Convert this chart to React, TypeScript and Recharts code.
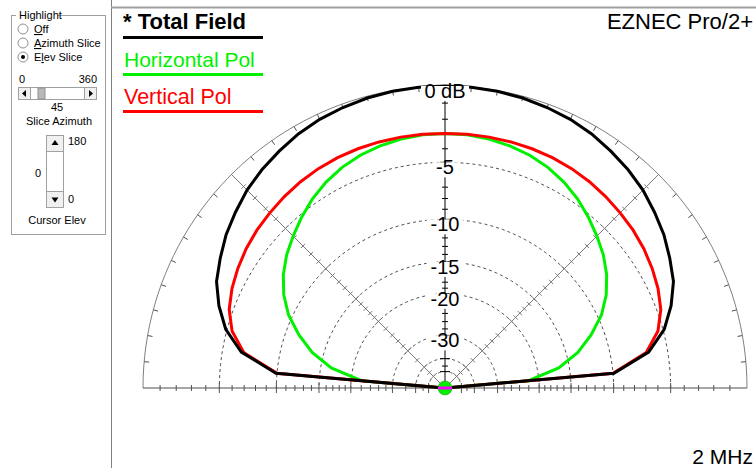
import React from 'react';
import { LineChart, Line, XAxis, YAxis, ReferenceLine, ReferenceDot } from 'recharts';

// elevation angle in degrees, 0 = right horizon, 180 = left horizon
const elevations = [
  0, 5, 10, 15, 20, 25, 30, 35, 40, 45, 50, 55, 60, 65, 70, 75, 80, 85, 90,
  95, 100, 105, 110, 115, 120, 125, 130, 135, 140, 145, 150, 155, 160, 165, 170, 175, 180,
];

// gain in dB (-99 = deep null at the horizon)
const totalField = [
  -99, -9.9, -6.5, -4.9, -3.9, -3.1, -2.6, -2.1, -1.7, -1.3, -1.0, -0.75, -0.5, -0.32, -0.2, -0.1, -0.04, -0.01, 0,
  -0.01, -0.04, -0.1, -0.2, -0.32, -0.5, -0.75, -1.0, -1.3, -1.7, -2.1, -2.6, -3.1, -3.9, -4.9, -6.5, -9.9, -99,
];
const horizontalPol = [
  -99, -22, -16.5, -13.5, -11.4, -9.6, -8.3, -7.3, -6.5, -5.85, -5.2, -4.6, -4.1, -3.7, -3.4, -3.2, -3.05, -2.96, -2.93,
  -2.96, -3.05, -3.2, -3.4, -3.7, -4.1, -4.6, -5.2, -5.85, -6.5, -7.3, -8.3, -9.6, -11.4, -13.5, -16.5, -22, -99,
];
const verticalPol = [
  -99, -10.0, -6.7, -5.4, -4.7, -4.3, -4.0, -3.75, -3.55, -3.4, -3.25, -3.12, -3.02, -2.96, -2.93, -2.92, -2.92, -2.93, -2.93,
  -2.93, -2.92, -2.92, -2.93, -2.96, -3.02, -3.12, -3.25, -3.4, -3.55, -3.75, -4.0, -4.3, -4.7, -5.4, -6.7, -10.0, -99,
];

// grid
const ringLevels = [-5, -10, -15, -20, -30, -40, -50];
const labelLevels = [0, -5, -10, -15, -20, -30];
const labelTexts = ['0 dB', '-5', '-10', '-15', '-20', '-30'];
const tickLevels = [
  -1, -2, -3, -4, -6, -7, -8, -9, -11, -12, -13, -14, -16, -17, -18, -19,
  -22, -24, -26, -28, -35, -45,
];
const rimTickAngles = [
  5, 10, 15, 20, 25, 30, 35, 40, 50, 55, 60, 65, 70, 75, 80, 85,
  95, 100, 105, 110, 115, 120, 125, 130, 140, 145, 150, 155, 160, 165, 170, 175,
];
const diagonalAngles = [45, 135];

const W = 756;
const H = 468;
const CX = 445;
const CY = 388;
const R = 302;

// ARRL log scale: radius shrinks by 0.89 every 2 dB
const arrl = (db: number) => Math.pow(0.89, -db / 2);
const rad = (deg: number) => (deg * Math.PI) / 180;
const toPoint = (elev: number, db: number) => {
  const r = arrl(db);
  return { x: r * Math.cos(rad(elev)), y: r * Math.sin(rad(elev)) };
};

const toSeries = (values: number[]) => elevations.map((e, i) => toPoint(e, values[i]));

const arc = (db: number) => {
  const pts = [];
  for (let a = 0; a <= 180; a += 2) pts.push(toPoint(a, db));
  return pts;
};

const radialTicks = (angle: number) => {
  const out: { x: number; y: number }[][] = [];
  const nx = -Math.sin(rad(angle));
  const ny = Math.cos(rad(angle));
  const add = (db: number, len: number) => {
    const p = toPoint(angle, db);
    const h = len / R;
    out.push([
      { x: p.x - nx * h, y: p.y - ny * h },
      { x: p.x + nx * h, y: p.y + ny * h },
    ]);
  };
  tickLevels.forEach((db) => add(db, 3));
  ringLevels.forEach((db) => add(db, 5));
  return out;
};

const xDomain = [-CX / R, (W - CX) / R];
const yDomain = [-(H - CY) / R, CY / R];

const GREEN = '#00f000';
const RED = '#ff0000';
const FONT = '"Liberation Sans", Arial, sans-serif';

function DbLabel({ cx, cy, text }: { cx: number; cy: number; text: string }) {
  const w = text.length * 11 + 4;
  return (
    <g>
      <rect x={cx - w / 2} y={cy} width={w} height={15} fill="#ffffff" />
      <text x={cx} y={cy + 12} textAnchor="middle" fontFamily={FONT} fontSize={20} fill="#000">
        {text}
      </text>
    </g>
  );
}

function Panel() {
  const radios = [
    { y: 29, label: 'Off', u: 0, on: false },
    { y: 43, label: 'Azimuth Slice', u: 0, on: false },
    { y: 57, label: 'Elev Slice', u: 1, on: true },
  ];
  const small = { fontFamily: FONT, fontSize: 11, fill: '#000' };
  return (
    <g>
      <rect x={11.5} y={15.5} width={94} height={219} fill="none" stroke="#a0a0a0" />
      <rect x={16} y={9} width={42} height={12} fill="#fff" />
      <text x={19} y={19} {...small}>Highlight</text>
      {radios.map((r) => (
        <g key={r.label}>
          <circle cx={23} cy={r.y} r={5} fill="#fff" stroke="#909090" />
          {r.on && <circle cx={23} cy={r.y} r={2} fill="#000" />}
          <text x={34} y={r.y + 4} {...small}>
            {r.label.split('').map((c, i) => (
              <tspan key={i} textDecoration={i === r.u ? 'underline' : undefined}>{c}</tspan>
            ))}
          </text>
        </g>
      ))}
      <text x={19} y={83} {...small}>0</text>
      <text x={97} y={83} textAnchor="end" {...small}>360</text>
      <rect x={18.5} y={87.5} width={78} height={12} fill="#fff" stroke="#a0a0a0" />
      <rect x={18.5} y={87.5} width={12} height={12} fill="#f0f0f0" stroke="#a0a0a0" />
      <rect x={84.5} y={87.5} width={12} height={12} fill="#f0f0f0" stroke="#a0a0a0" />
      <path d="M22 93.5 L26 90 L26 97 Z" fill="#000" />
      <path d="M93 93.5 L89 90 L89 97 Z" fill="#000" />
      <rect x={38} y={88} width={7} height={11} fill="#b8b8b8" stroke="#909090" />
      <text x={57} y={111} textAnchor="middle" {...small}>45</text>
      <text x={59} y={125} textAnchor="middle" {...small}>Slice Azimuth</text>
      <rect x={46.5} y={135.5} width={17} height={72} fill="#fff" stroke="#a0a0a0" />
      <rect x={46.5} y={135.5} width={17} height={16} fill="#f0f0f0" stroke="#a0a0a0" />
      <rect x={46.5} y={191.5} width={17} height={16} fill="#f0f0f0" stroke="#a0a0a0" />
      <path d="M55 140 L51.5 145 L58.5 145 Z" fill="#000" />
      <path d="M55 202.5 L51.5 197.5 L58.5 197.5 Z" fill="#000" />
      <text x={68} y={145} {...small}>180</text>
      <text x={35} y={177} {...small}>0</text>
      <text x={68} y={203} {...small}>0</text>
      <text x={57} y={224} textAnchor="middle" {...small}>Cursor Elev</text>
    </g>
  );
}

export default function App() {
  const total = toSeries(totalField);
  const horiz = toSeries(horizontalPol);
  const vert = toSeries(verticalPol);

  const segs: { key: string; seg: { x: number; y: number }[]; color: string }[] = [];
  // horizon line with ticks
  segs.push({ key: 'base', seg: [{ x: -1, y: 0 }, { x: 1, y: 0 }], color: '#505050' });
  radialTicks(0).forEach((s, i) => segs.push({ key: `b0-${i}`, seg: s, color: '#505050' }));
  radialTicks(180).forEach((s, i) => segs.push({ key: `b1-${i}`, seg: s, color: '#505050' }));
  // 45 degree lines
  diagonalAngles.forEach((a) => {
    segs.push({ key: `d${a}`, seg: [{ x: 0, y: 0 }, toPoint(a, 0)], color: '#7a7a7a' });
    radialTicks(a).forEach((s, i) => segs.push({ key: `d${a}-${i}`, seg: s, color: '#7a7a7a' }));
  });
  // zenith axis
  segs.push({ key: 'v', seg: [{ x: 0, y: 0 }, { x: 0, y: 1 }], color: '#000' });
  radialTicks(90).forEach((s, i) => segs.push({ key: `v-${i}`, seg: s, color: '#000' }));
  // rim ticks
  rimTickAngles.forEach((a) => {
    const p = toPoint(a, 0);
    const k = 1 - 5 / R;
    segs.push({ key: `r${a}`, seg: [p, { x: p.x * k, y: p.y * k }], color: '#505050' });
  });

  return (
    <div style={{ position: 'absolute', left: 0, top: 0, width: W, height: H, background: '#fff' }}>
      <LineChart width={W} height={H} margin={{ top: 0, right: 0, bottom: 0, left: 0 }}>
        <XAxis type="number" dataKey="x" domain={xDomain} allowDataOverflow hide />
        <YAxis type="number" dataKey="y" domain={yDomain} allowDataOverflow hide />
        {ringLevels.map((db) => (
          <Line
            key={`ring${db}`}
            data={arc(db)}
            dataKey="y"
            type="linear"
            stroke="#505050"
            strokeWidth={1}
            strokeDasharray="3 3"
            dot={false}
            activeDot={false}
            isAnimationActive={false}
          />
        ))}
        <Line
          data={arc(0)}
          dataKey="y"
          type="linear"
          stroke="#808080"
          strokeWidth={1}
          dot={false}
          activeDot={false}
          isAnimationActive={false}
        />
        {segs.map((s) => (
          <ReferenceLine key={s.key} segment={s.seg} stroke={s.color} strokeWidth={1} ifOverflow="visible" />
        ))}
        {labelLevels.map((db, i) => (
          <ReferenceDot
            key={`lbl${db}`}
            x={0}
            y={arrl(db)}
            r={1}
            ifOverflow="visible"
            shape={(p: any) => <DbLabel cx={p.cx} cy={p.cy} text={labelTexts[i]} />}
          />
        ))}
        <Line data={horiz} dataKey="y" type="linear" stroke={GREEN} strokeWidth={3} dot={false} activeDot={false} isAnimationActive={false} />
        <Line data={vert} dataKey="y" type="linear" stroke={RED} strokeWidth={3} dot={false} activeDot={false} isAnimationActive={false} />
        <Line data={total} dataKey="y" type="linear" stroke="#000" strokeWidth={3} dot={false} activeDot={false} isAnimationActive={false} />
        <ReferenceDot
          x={0}
          y={0}
          r={7}
          ifOverflow="visible"
          shape={(p: any) => (
            <g>
              <circle cx={p.cx} cy={p.cy} r={7} fill={GREEN} stroke="#208020" strokeWidth={0.5} />
              <line x1={p.cx - 7} x2={p.cx + 7} y1={p.cy} y2={p.cy} stroke="#ff00ff" strokeWidth={3} />
            </g>
          )}
        />
      </LineChart>
      <svg width={W} height={H} style={{ position: 'absolute', left: 0, top: 0, pointerEvents: 'none' }}>
        <line x1={111.5} y1={0} x2={111.5} y2={H} stroke="#808080" />
        <line x1={111} y1={7.5} x2={W} y2={7.5} stroke="#a0a0a0" strokeWidth={2} />
        <Panel />
        <text x={123} y={29} fontFamily={FONT} fontSize={22} fontWeight="bold" fill="#000">* Total Field</text>
        <rect x={123} y={36} width={140} height={3} fill="#000" />
        <text x={124} y={66.5} fontFamily={FONT} fontSize={21} fill={GREEN}>Horizontal Pol</text>
        <rect x={123} y={73} width={140} height={3} fill={GREEN} />
        <text x={124} y={104} fontFamily={FONT} fontSize={21.5} fill={RED}>Vertical Pol</text>
        <rect x={123} y={110} width={140} height={3} fill={RED} />
        <text x={753} y={29} textAnchor="end" fontFamily={FONT} fontSize={22} fill="#000">EZNEC Pro/2+</text>
        <text x={753} y={464} textAnchor="end" fontFamily={FONT} fontSize={21} fill="#000">2 MHz</text>
      </svg>
    </div>
  );
}
